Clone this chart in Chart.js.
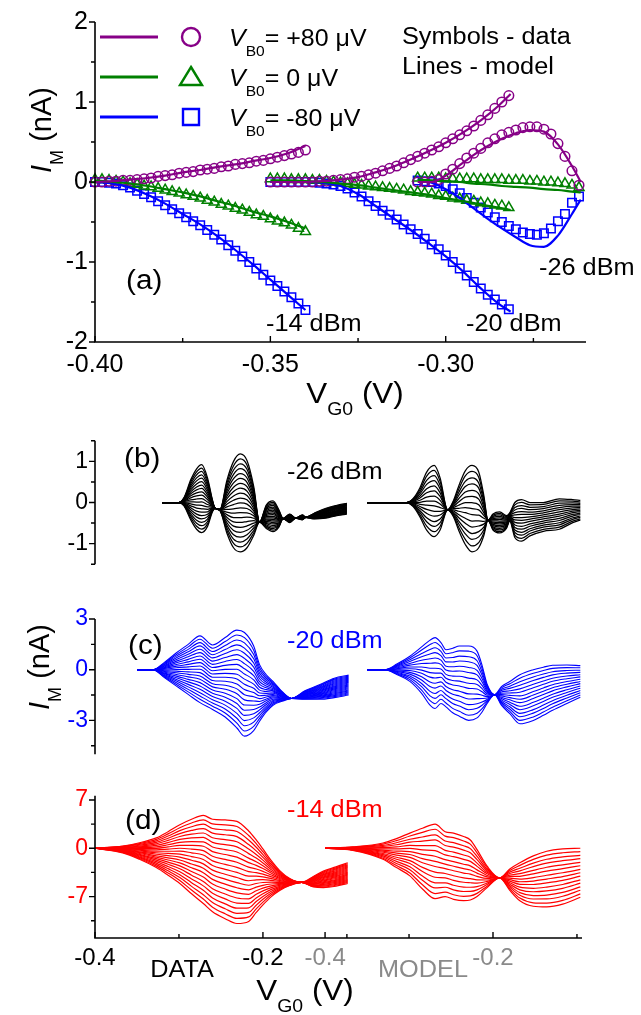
<!DOCTYPE html>
<html>
<head>
<meta charset="utf-8">
<script src="https://cdn.jsdelivr.net/npm/chart.js@4.4.0/dist/chart.umd.min.js"></script>
<style>
  body { margin: 0; background: #fff; }
  #wrap { position: relative; width: 641px; height: 1015px; overflow: hidden; }
  canvas { position: absolute; left: 0; }
</style>
</head>
<body>
<div id="wrap">
  <canvas id="chartA" width="641" height="420" style="top:0px"></canvas>
  <canvas id="chartB" width="641" height="165" style="top:420px"></canvas>
  <canvas id="chartC" width="641" height="190" style="top:585px"></canvas>
  <canvas id="chartD" width="641" height="240" style="top:775px"></canvas>
</div>
<script>
// ---------- panel (a): I_M vs V_G0 at three powers, V_B0 = +80 / 0 / -80 uV ----------
// -14 dBm, data (symbols)
const a14X    = [-0.400,-0.398,-0.396,-0.394,-0.392,-0.390,-0.388,-0.386,-0.384,-0.382,-0.380,-0.378,-0.376,-0.374,-0.372,-0.370,-0.368,-0.366,-0.364,-0.362,-0.360,-0.358,-0.356,-0.354,-0.352,-0.350,-0.348,-0.346,-0.344,-0.342,-0.340];
const a14Pos  = [0.00,0.00,0.01,0.01,0.02,0.02,0.03,0.04,0.05,0.07,0.08,0.09,0.11,0.12,0.13,0.15,0.16,0.17,0.19,0.20,0.22,0.23,0.24,0.26,0.27,0.29,0.31,0.33,0.35,0.37,0.40];
const a14Zero = [0.03,0.03,0.02,0.01,0.00,-0.02,-0.03,-0.05,-0.06,-0.08,-0.10,-0.12,-0.14,-0.16,-0.18,-0.20,-0.23,-0.25,-0.28,-0.30,-0.33,-0.35,-0.38,-0.41,-0.43,-0.46,-0.49,-0.51,-0.54,-0.58,-0.62];
const a14Neg  = [0.00,0.00,-0.01,-0.02,-0.04,-0.07,-0.11,-0.15,-0.19,-0.24,-0.29,-0.34,-0.39,-0.44,-0.49,-0.54,-0.60,-0.66,-0.72,-0.79,-0.86,-0.93,-1.00,-1.08,-1.16,-1.23,-1.30,-1.37,-1.44,-1.52,-1.60];
// -14 dBm, model (lines)
const m14X    = [-0.400,-0.395,-0.390,-0.385,-0.380,-0.375,-0.370,-0.365,-0.360,-0.355,-0.350,-0.345,-0.340];
const m14Pos  = [0,0.01,0.03,0.05,0.08,0.12,0.15,0.19,0.22,0.26,0.30,0.36,0.45];
const m14Zero = [0.02,0.00,-0.02,-0.05,-0.09,-0.13,-0.18,-0.24,-0.30,-0.37,-0.43,-0.50,-0.58];
const m14Neg  = [0,-0.02,-0.07,-0.16,-0.27,-0.40,-0.53,-0.68,-0.85,-1.03,-1.22,-1.41,-1.60];

// -20 dBm, data
const a20X    = [-0.350,-0.348,-0.346,-0.344,-0.342,-0.340,-0.338,-0.336,-0.334,-0.332,-0.330,-0.328,-0.326,-0.324,-0.322,-0.320,-0.318,-0.316,-0.314,-0.312,-0.310,-0.308,-0.306,-0.304,-0.302,-0.300,-0.298,-0.296,-0.294,-0.292,-0.290,-0.288,-0.286,-0.284,-0.282];
const a20Pos  = [0,0,0,0,0,0,0,0.01,0.01,0.02,0.03,0.04,0.06,0.07,0.09,0.11,0.14,0.17,0.20,0.24,0.28,0.32,0.36,0.40,0.44,0.49,0.54,0.59,0.64,0.70,0.77,0.84,0.92,1.00,1.08];
const a20Zero = [0.04,0.04,0.04,0.03,0.03,0.03,0.02,0.02,0.01,0.00,-0.01,-0.02,-0.03,-0.04,-0.05,-0.06,-0.07,-0.08,-0.09,-0.10,-0.12,-0.13,-0.14,-0.15,-0.17,-0.18,-0.20,-0.21,-0.23,-0.24,-0.26,-0.27,-0.29,-0.30,-0.32];
const a20Neg  = [0,0,0,0,0,0,0,-0.01,-0.02,-0.03,-0.05,-0.08,-0.13,-0.18,-0.24,-0.30,-0.36,-0.41,-0.47,-0.53,-0.59,-0.65,-0.71,-0.78,-0.84,-0.92,-1.00,-1.08,-1.17,-1.25,-1.33,-1.41,-1.47,-1.53,-1.59];
// -20 dBm, model
const m20X    = [-0.350,-0.345,-0.340,-0.335,-0.330,-0.325,-0.320,-0.315,-0.310,-0.305,-0.300,-0.295,-0.290,-0.285,-0.2815];
const m20Pos  = [0,0,0,0.01,0.03,0.06,0.12,0.19,0.28,0.38,0.49,0.62,0.77,0.95,1.10];
const m20Zero = [0.02,0.02,0.01,0.00,-0.02,-0.04,-0.07,-0.10,-0.13,-0.16,-0.20,-0.24,-0.28,-0.32,-0.35];
const m20Neg  = [0,0,0,-0.01,-0.05,-0.15,-0.30,-0.45,-0.60,-0.76,-0.93,-1.12,-1.33,-1.52,-1.62];

// -26 dBm, data
const a26X    = [-0.308,-0.306,-0.304,-0.302,-0.300,-0.298,-0.296,-0.294,-0.292,-0.290,-0.288,-0.286,-0.284,-0.282,-0.280,-0.278,-0.276,-0.274,-0.272,-0.270,-0.268,-0.266,-0.264,-0.262];
const a26Pos  = [0.00,0.00,0.01,0.03,0.10,0.16,0.23,0.30,0.36,0.42,0.49,0.54,0.59,0.62,0.65,0.68,0.69,0.69,0.66,0.60,0.48,0.32,0.14,-0.04];
const a26Zero = [0.05,0.05,0.05,0.05,0.04,0.04,0.04,0.04,0.04,0.03,0.03,0.03,0.03,0.02,0.02,0.02,0.01,0.01,0.00,0.00,-0.01,-0.02,-0.04,-0.07];
const a26Neg  = [0.02,0.01,0.00,-0.02,-0.05,-0.09,-0.14,-0.20,-0.26,-0.32,-0.38,-0.44,-0.50,-0.55,-0.59,-0.63,-0.65,-0.66,-0.64,-0.58,-0.49,-0.40,-0.26,-0.18];
// -26 dBm, model
const m26X    = [-0.308,-0.304,-0.300,-0.296,-0.292,-0.288,-0.284,-0.280,-0.276,-0.272,-0.268,-0.264,-0.2615];
const m26Pos  = [0.00,0.00,0.08,0.21,0.34,0.45,0.54,0.61,0.65,0.63,0.47,0.20,0.00];
const m26Zero = [0.03,0.02,0.01,0.00,-0.02,-0.03,-0.05,-0.06,-0.07,-0.09,-0.10,-0.12,-0.13];
const m26Neg  = [0.04,-0.01,-0.09,-0.20,-0.33,-0.46,-0.58,-0.69,-0.79,-0.81,-0.67,-0.40,-0.22];

const aXTicks = [-0.40, -0.35, -0.30];
const aXMinor = [-0.375, -0.325, -0.275];
const aYTicks = [2, 1, 0, -1, -2];
const aYMinor = [1.5, 0.5, -0.5, -1.5];

// ---------- panels (b)-(d): fans of traces, V_B0 stepped from -80 to +80 uV ----------
// each fan is given by its two outer traces (V_B0 = +80 -> "Up", V_B0 = -80 -> "Lo")
const dataBias  = [-80,-72,-64,-56,-48,-40,-32,-24,-16,-8,0,8,16,24,32,40,48,56,64,72,80];
const modelBias = [-80,-69,-57,-46,-34,-23,-11,0,11,23,34,46,57,69,80];
const MODEL_SHIFT = 0.274;   // model half is drawn to the right of the data half

// (b) -26 dBm
const bDataX  = [-0.320,-0.300,-0.294,-0.286,-0.279,-0.273,-0.266,-0.260,-0.257,-0.251,-0.243,-0.235,-0.227,-0.219,-0.211,-0.204,-0.196,-0.188,-0.181,-0.176,-0.168,-0.161,-0.153,-0.149,-0.139,-0.125,-0.112,-0.100];
const bDataUp = [0,0,0.12,0.55,0.82,0.92,0.60,0.05,-0.14,-0.16,0.53,1.00,1.18,1.02,0.39,-0.48,-0.06,0.04,-0.18,-0.39,-0.28,-0.38,-0.30,-0.36,-0.26,-0.14,-0.07,-0.02];
const bDataLo = [0,0,-0.08,-0.42,-0.65,-0.73,-0.58,-0.22,-0.14,-0.20,-0.74,-1.10,-1.20,-1.10,-0.80,-0.48,-0.63,-0.71,-0.60,-0.39,-0.49,-0.38,-0.42,-0.36,-0.40,-0.38,-0.32,-0.28];
const bModX   = [-0.350,-0.303,-0.295,-0.287,-0.279,-0.270,-0.263,-0.254,-0.247,-0.241,-0.233,-0.225,-0.217,-0.211,-0.206,-0.200,-0.192,-0.184,-0.180,-0.174,-0.166,-0.156,-0.140,-0.121,-0.105,-0.096];
const bModUp  = [0,0,0.10,0.36,0.74,0.90,0.60,-0.18,0.05,0.39,0.77,0.90,0.74,0.18,-0.43,-0.28,-0.23,-0.32,-0.25,0.00,0.07,0.00,0.00,0.09,0.07,0.05];
const bModLo  = [0,0,-0.10,-0.35,-0.67,-0.83,-0.67,-0.18,-0.35,-0.67,-1.02,-1.20,-1.10,-0.81,-0.43,-0.67,-0.74,-0.63,-0.45,-0.85,-0.94,-0.81,-0.70,-0.65,-0.49,-0.43];

// (c) -20 dBm
const cDataX  = [-0.350,-0.331,-0.317,-0.303,-0.289,-0.275,-0.260,-0.245,-0.231,-0.222,-0.211,-0.204,-0.196,-0.188,-0.176,-0.166,-0.150,-0.132,-0.115,-0.098];
const cDataUp = [0,0,0.45,1.00,1.50,2.00,1.46,1.90,2.34,2.20,1.40,0.30,-0.30,-0.69,-1.35,-1.70,-1.25,-0.88,-0.50,-0.32];
const cDataLo = [0,0,-0.48,-0.97,-1.46,-1.95,-2.35,-2.80,-3.45,-3.93,-3.60,-3.05,-2.50,-2.10,-1.85,-1.70,-1.75,-1.75,-1.65,-1.50];
const cModX   = [-0.350,-0.329,-0.314,-0.299,-0.285,-0.275,-0.269,-0.262,-0.256,-0.248,-0.240,-0.229,-0.219,-0.213,-0.207,-0.198,-0.190,-0.180,-0.168,-0.152,-0.140,-0.129,-0.112,-0.096];
const cModUp  = [0,0,0.35,0.80,1.35,1.75,1.90,1.60,1.18,1.27,1.40,1.40,1.10,0.26,-0.86,-1.48,-1.00,-0.70,-0.30,0.00,0.15,0.26,0.28,0.24];
const cModLo  = [0,0,-0.30,-0.69,-1.40,-2.10,-2.30,-2.00,-2.20,-2.55,-2.75,-3.00,-2.85,-2.50,-2.00,-1.48,-2.10,-2.60,-3.20,-3.00,-2.70,-2.40,-2.00,-1.63];

// (d) -14 dBm
const dDataX  = [-0.400,-0.367,-0.347,-0.327,-0.313,-0.299,-0.285,-0.271,-0.260,-0.245,-0.231,-0.217,-0.208,-0.200,-0.190,-0.180,-0.168,-0.154,-0.140,-0.128,-0.113,-0.099];
const dDataUp = [0,0.33,0.80,1.50,2.40,3.40,4.20,4.76,4.20,4.10,3.90,2.50,1.20,-0.10,-1.80,-3.24,-4.40,-4.95,-4.10,-3.30,-2.70,-2.10];
const dDataLo = [0,-0.66,-1.60,-2.80,-3.90,-5.10,-6.60,-8.00,-9.20,-10.20,-10.90,-10.60,-9.30,-8.20,-7.00,-6.10,-5.40,-4.95,-5.60,-5.70,-5.50,-5.10];
const dModX   = [-0.400,-0.367,-0.331,-0.315,-0.299,-0.284,-0.269,-0.257,-0.247,-0.235,-0.227,-0.219,-0.207,-0.192,-0.180,-0.168,-0.152,-0.136,-0.117,-0.096];
const dModUp  = [0,0.20,0.76,1.40,2.20,2.90,3.50,2.40,2.20,1.70,1.20,-0.20,-2.60,-4.30,-3.00,-2.10,-1.10,-0.43,-0.10,0.00];
const dModLo  = [0,-0.30,-1.60,-2.80,-4.00,-5.90,-7.30,-7.00,-7.40,-7.60,-7.50,-7.00,-5.70,-4.30,-6.10,-7.60,-8.40,-8.50,-8.10,-7.10];

const bYTicks = [1, 0, -1];        const bYMinor = [1.5, 0.5, -0.5, -1.5];
const cYTicks = [3, 0, -3];        const cYMinor = [1.5, -1.5, -4.5];
const dYTicks = [7, 0, -7];        const dYMinor = [3.5, -3.5, -10.5];
const dXTicks  = [-0.4, -0.2, -0.4 + MODEL_SHIFT, -0.2 + MODEL_SHIFT];
const dXLabels = ['-0.4', '-0.2', '-0.4', '-0.2'];
const dXColors = ['#000', '#000', '#8a8a8a', '#8a8a8a'];
const dXMinor  = [-0.3, -0.1, -0.3 + MODEL_SHIFT, -0.1 + MODEL_SHIFT];

const PURPLE = '#870087', GREEN = '#008000', BLUE = '#0000ff', RED = '#ff0000', GRAY = '#8a8a8a';
const FONT = '"Liberation Sans", Arial, Helvetica, sans-serif';
Chart.defaults.font.family = FONT;
Chart.defaults.color = '#000';

// axis lines and tick marks (y ticks point out, x ticks point in)
Chart.register({
  id: 'axisMarks',
  afterDraw(chart, args, o) {
    const ctx = chart.ctx, a = chart.chartArea, x = chart.scales.x, y = chart.scales.y;
    ctx.save();
    ctx.strokeStyle = '#000';
    ctx.lineWidth = 1.6;
    ctx.beginPath();
    ctx.moveTo(a.left, a.top); ctx.lineTo(a.left, a.bottom);
    if (o.xAxis) { ctx.moveTo(a.left - 0.8, a.bottom); ctx.lineTo(a.right, a.bottom); }
    ctx.stroke();
    ctx.lineWidth = 1.4;
    ctx.beginPath();
    (o.yMajor || []).forEach(v => { const p = y.getPixelForValue(v); ctx.moveTo(a.left, p); ctx.lineTo(a.left - 6, p); });
    (o.yMinor || []).forEach(v => { const p = y.getPixelForValue(v); ctx.moveTo(a.left, p); ctx.lineTo(a.left - 4, p); });
    (o.xMajor || []).forEach(v => { const p = x.getPixelForValue(v); ctx.moveTo(p, a.bottom); ctx.lineTo(p, a.bottom - 6); });
    (o.xMinor || []).forEach(v => { const p = x.getPixelForValue(v); ctx.moveTo(p, a.bottom); ctx.lineTo(p, a.bottom - 4); });
    ctx.stroke();
    ctx.restore();
  }
});

// text with italic / subscript pieces: parts = [[text, 'i'|'s'|''], ...]
// sx stretches the glyphs sideways a little, as in the original figure
function rich(ctx, x, y, parts, size, color, align, sx) {
  sx = sx || 1;
  const fontFor = st => (st.indexOf('i') >= 0 ? 'italic ' : '') + (st.indexOf('s') >= 0 ? Math.round(size * 0.62) : size) + 'px ' + FONT;
  let w = 0;
  parts.forEach(p => { ctx.font = fontFor(p[1]); w += ctx.measureText(p[0]).width; });
  ctx.save();
  ctx.translate(align === 'center' ? x - w * sx / 2 : x, y);
  ctx.scale(sx, 1);
  ctx.fillStyle = color;
  ctx.textAlign = 'left';
  ctx.textBaseline = 'alphabetic';
  let cx = 0;
  parts.forEach(p => {
    ctx.font = fontFor(p[1]);
    ctx.fillText(p[0], cx, p[1].indexOf('s') >= 0 ? size * 0.42 : 0);
    cx += ctx.measureText(p[0]).width;
  });
  ctx.restore();
}
function text(ctx, s, x, y, size, color, align) {
  rich(ctx, x, y, [[s, '']], size, color, align, 1.1);
}
function yTitle(ctx, x, y, color) {
  ctx.save();
  ctx.translate(x, y);
  ctx.rotate(-Math.PI / 2);
  rich(ctx, 0, 0, [['I', 'i'], ['M', 's'], [' (nA)', '']], 29, color, 'center', 1);
  ctx.restore();
}

function pts(xs, ys, shift) {
  return xs.map((x, i) => ({ x: x + (shift || 0), y: ys[i] }));
}
function modelLine(xs, ys, color) {
  return { data: pts(xs, ys), borderColor: color, borderWidth: 2.2, pointRadius: 0, showLine: true,
           cubicInterpolationMode: 'monotone', fill: false, clip: false };
}
function symbols(xs, ys, color, style, r) {
  return { data: pts(xs, ys), showLine: false, pointStyle: style, pointRadius: r,
           pointBorderColor: color, pointBackgroundColor: 'rgba(0,0,0,0)', pointBorderWidth: 1.5, clip: false };
}
function fan(xs, up, lo, levels, shift, color, lw) {
  return levels.map(v => {
    const t = (v + 80) / 160;
    return { data: xs.map((x, i) => ({ x: x + shift, y: lo[i] + t * (up[i] - lo[i]) })),
             borderColor: color, borderWidth: lw, pointRadius: 0, showLine: true,
             cubicInterpolationMode: 'monotone', fill: false, clip: false };
  });
}

function baseOptions(o) {
  return {
    responsive: false, animation: false, devicePixelRatio: 1, events: [],
    layout: { padding: o.padding },
    plugins: { legend: { display: false }, tooltip: { enabled: false }, axisMarks: o.marks },
    scales: {
      x: {
        type: 'linear', min: o.xmin, max: o.xmax, display: o.xDisplay,
        afterFit: s => { s.height = o.xHeight || 0; },
        afterBuildTicks: s => { s.ticks = o.xTicks.map(v => ({ value: v })); },
        grid: { display: false, drawTicks: false }, border: { display: false },
        ticks: { autoSkip: false, maxRotation: 0, padding: o.xPad || 6, font: { size: o.xFont || 23 },
                 callback: o.xLabel, color: o.xColor || '#000' }
      },
      y: {
        type: 'linear', min: o.ymin, max: o.ymax,
        afterFit: s => { s.width = 95; },
        afterBuildTicks: s => { s.ticks = o.yTicks.map(v => ({ value: v })); },
        grid: { display: false, drawTicks: false }, border: { display: false },
        ticks: { autoSkip: false, padding: 7, font: { size: o.yFont || 23 }, color: o.yColor || '#000',
                 callback: v => String(v) }
      }
    }
  };
}

// ---------------- chart (a) ----------------
new Chart(document.getElementById('chartA'), {
  type: 'line',
  data: { datasets: [
    modelLine(m14X, m14Pos, PURPLE), modelLine(m14X, m14Zero, GREEN), modelLine(m14X, m14Neg, BLUE),
    modelLine(m20X, m20Pos, PURPLE), modelLine(m20X, m20Zero, GREEN), modelLine(m20X, m20Neg, BLUE),
    modelLine(m26X, m26Pos, PURPLE), modelLine(m26X, m26Zero, GREEN), modelLine(m26X, m26Neg, BLUE),
    symbols(a14X, a14Pos, PURPLE, 'circle', 4.8), symbols(a14X, a14Zero, GREEN, 'triangle', 5.8), symbols(a14X, a14Neg, BLUE, 'rect', 6),
    symbols(a20X, a20Pos, PURPLE, 'circle', 4.8), symbols(a20X, a20Zero, GREEN, 'triangle', 5.8), symbols(a20X, a20Neg, BLUE, 'rect', 6),
    symbols(a26X, a26Pos, PURPLE, 'circle', 4.8), symbols(a26X, a26Zero, GREEN, 'triangle', 5.8), symbols(a26X, a26Neg, BLUE, 'rect', 6)
  ]},
  options: baseOptions({
    padding: { top: 22, right: 55, left: 0, bottom: 0 },
    xmin: -0.40, xmax: -0.26, xDisplay: true, xHeight: 78, xTicks: aXTicks, xPad: 8, xFont: 25,
    xLabel: v => Number(v).toFixed(2),
    ymin: -2, ymax: 2, yTicks: aYTicks, yFont: 25,
    marks: { xAxis: true, yMajor: aYTicks, yMinor: aYMinor, xMajor: aXTicks, xMinor: aXMinor }
  }),
  plugins: [{
    id: 'decorA',
    afterDraw(chart) {
      const ctx = chart.ctx;
      ctx.save();
      // legend
      const rows = [
        { y: 37, c: PURPLE, s: 'circle', t: '= +80 \u03bcV' },
        { y: 77, c: GREEN, s: 'triangle', t: '= 0 \u03bcV' },
        { y: 117, c: BLUE, s: 'rect', t: '= -80 \u03bcV' }
      ];
      rows.forEach(r => {
        ctx.strokeStyle = r.c; ctx.lineWidth = 3;
        ctx.beginPath(); ctx.moveTo(100, r.y); ctx.lineTo(158, r.y); ctx.stroke();
        ctx.lineWidth = 2.4;
        ctx.beginPath();
        if (r.s === 'circle') ctx.arc(191, r.y, 9, 0, Math.PI * 2);
        else if (r.s === 'triangle') { ctx.moveTo(191, r.y - 10); ctx.lineTo(202, r.y + 8); ctx.lineTo(180, r.y + 8); ctx.closePath(); }
        else ctx.rect(183, r.y - 8, 16, 16);
        ctx.stroke();
        rich(ctx, 229, r.y + 9, [['V', 'i'], ['B0', 's'], [r.t, '']], 24, '#000', 'left', 1.04);
      });
      text(ctx, 'Symbols - data', 402, 44, 23, '#000', 'left');
      text(ctx, 'Lines - model', 402, 74, 23, '#000', 'left');
      text(ctx, '(a)', 126, 289, 27, '#000', 'left');
      text(ctx, '-14 dBm', 266, 331, 23, '#000', 'left');
      text(ctx, '-20 dBm', 466, 331, 23, '#000', 'left');
      text(ctx, '-26 dBm', 539, 275, 23, '#000', 'left');
      yTitle(ctx, 51, 130, '#000');
      rich(ctx, 355, 403, [['V', ''], ['G0', 's'], [' (V)', '']], 29, '#000', 'center', 1.08);
      ctx.restore();
    }
  }]
});

// ---------------- chart (b) ----------------
new Chart(document.getElementById('chartB'), {
  type: 'line',
  data: { datasets: fan(bDataX, bDataUp, bDataLo, dataBias, 0, '#000', 1.25)
                      .concat(fan(bModX, bModUp, bModLo, modelBias, MODEL_SHIFT, '#000', 1.25)) },
  options: baseOptions({
    padding: { top: 14, right: 59, left: 0, bottom: 8 },
    xmin: -0.4, xmax: 0.18, xDisplay: false, xTicks: [], xLabel: () => '',
    ymin: -1.5, ymax: 1.5, yTicks: bYTicks,
    marks: { yMajor: bYTicks, yMinor: bYMinor }
  }),
  plugins: [{
    id: 'decorB',
    afterDraw(chart) {
      const ctx = chart.ctx;
      text(ctx, '(b)', 124, 47, 27, '#000', 'left');
      text(ctx, '-26 dBm', 287, 59, 23, '#000', 'left');
    }
  }]
});

// ---------------- chart (c) ----------------
new Chart(document.getElementById('chartC'), {
  type: 'line',
  data: { datasets: fan(cDataX, cDataUp, cDataLo, dataBias, 0, BLUE, 1.1)
                      .concat(fan(cModX, cModUp, cModLo, modelBias, MODEL_SHIFT, BLUE, 1.1)) },
  options: baseOptions({
    padding: { top: 34, right: 59, left: 0, bottom: 13 },
    xmin: -0.4, xmax: 0.18, xDisplay: false, xTicks: [], xLabel: () => '',
    ymin: -5, ymax: 3, yTicks: cYTicks, yColor: BLUE,
    marks: { yMajor: cYTicks, yMinor: cYMinor }
  }),
  plugins: [{
    id: 'decorC',
    afterDraw(chart) {
      const ctx = chart.ctx;
      text(ctx, '(c)', 128, 69, 27, '#000', 'left');
      text(ctx, '-20 dBm', 287, 63, 23, BLUE, 'left');
      yTitle(ctx, 49, 82, '#000');
    }
  }]
});

// ---------------- chart (d) ----------------
new Chart(document.getElementById('chartD'), {
  type: 'line',
  data: { datasets: fan(dDataX, dDataUp, dDataLo, dataBias, 0, RED, 1.2)
                      .concat(fan(dModX, dModUp, dModLo, modelBias, MODEL_SHIFT, RED, 1.2)) },
  options: baseOptions({
    padding: { top: 16, right: 59, left: 0, bottom: 0 },
    xmin: -0.4, xmax: 0.18, xDisplay: true, xHeight: 77, xTicks: dXTicks, xPad: 6, xFont: 24,
    xLabel: (v, i) => dXLabels[i], xColor: c => dXColors[c.index],
    ymin: -13, ymax: 7.6, yTicks: dYTicks, yColor: RED,
    marks: { xAxis: true, yMajor: dYTicks, yMinor: dYMinor, xMajor: dXTicks, xMinor: dXMinor }
  }),
  plugins: [{
    id: 'decorD',
    afterDraw(chart) {
      const ctx = chart.ctx;
      text(ctx, '(d)', 125, 54, 27, '#000', 'left');
      text(ctx, '-14 dBm', 287, 42, 23, RED, 'left');
      text(ctx, 'DATA', 182, 202, 23, '#000', 'center');
      text(ctx, 'MODEL', 423, 202, 23, GRAY, 'center');
      rich(ctx, 305, 225, [['V', ''], ['G0', 's'], [' (V)', '']], 29, '#000', 'center', 1.08);
    }
  }]
});
</script>
</body>
</html>
